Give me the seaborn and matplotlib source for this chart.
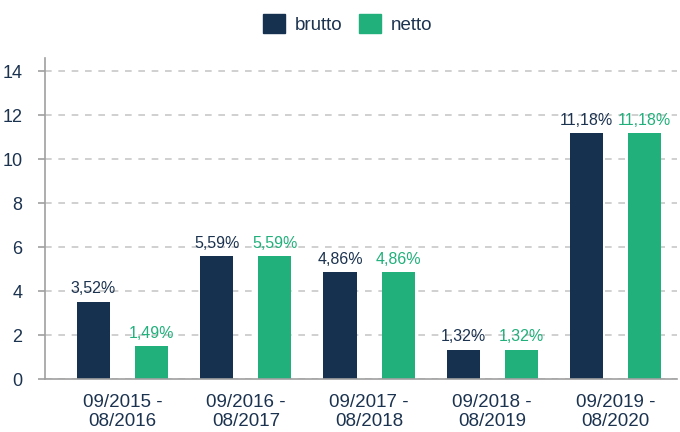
import matplotlib
matplotlib.use("Agg")
import matplotlib.pyplot as plt
import seaborn as sns
import pandas as pd

categories = ["09/2015 -\n08/2016", "09/2016 -\n08/2017", "09/2017 -\n08/2018",
              "09/2018 -\n08/2019", "09/2019 -\n08/2020"]
brutto = [3.52, 5.59, 4.86, 1.32, 11.18]
netto = [1.49, 5.59, 4.86, 1.32, 11.18]
series = ["brutto", "netto"]
colors = {"brutto": "#15314F", "netto": "#21B07B"}
yticks = [0, 2, 4, 6, 8, 10, 12, 14]

df = pd.DataFrame({
    "period": categories * 2,
    "value": brutto + netto,
    "series": ["brutto"] * len(categories) + ["netto"] * len(categories),
})

sns.set_theme(style="white")
plt.rcParams["font.family"] = ["Liberation Sans", "DejaVu Sans"]
text_color = "#1C3350"

fig = plt.figure(figsize=(6.8, 4.32), dpi=100)
ax = fig.add_axes([44.5 / 680, 53 / 432, 632.5 / 680, 321 / 432])

sns.barplot(data=df, x="period", y="value", hue="series", hue_order=series,
            palette=colors, width=0.944, gap=0.43, saturation=1, ax=ax,
            legend=False, errorbar=None, linewidth=0)

ax.set_ylim(0, 14.6)
ax.set_xlim(-0.5 - 16.5 / 123, 4.5)
ax.set_yticks(yticks)
ax.set_xlabel("")
ax.set_ylabel("")
ax.yaxis.grid(True, linestyle=(0, (4, 4)), color="#C8C8C8", linewidth=1.2)
ax.set_axisbelow(True)
for side in ["top", "right"]:
    ax.spines[side].set_visible(False)
for side in ["left", "bottom"]:
    ax.spines[side].set_color("#A0A0A0")
    ax.spines[side].set_linewidth(1.2)
ax.tick_params(axis="y", left=True, length=5, width=1.2, color="#A0A0A0", labelsize=13,
               labelcolor=text_color, pad=11)
ax.tick_params(axis="x", bottom=False, labelsize=13.5, labelcolor=text_color, pad=5)
for lbl in ax.get_xticklabels():
    lbl.set_linespacing(1.1)

for container, name in zip(ax.containers, series):
    labels = [f"{v:.2f}%".replace(".", ",") for v in container.datavalues]
    ax.bar_label(container, labels=labels, padding=4, fontsize=11.5,
                 color=colors[name] if name == "netto" else text_color)

handles = [plt.Rectangle((0, 0), 1, 1, color=colors[s]) for s in series]
fig.legend(handles, series, loc="center", bbox_to_anchor=(347.5 / 680, 1 - 24 / 432),
           ncol=2, frameon=False, fontsize=13.5, handlelength=1.17, handleheight=1.17,
           handletextpad=0.53, columnspacing=0.9, labelcolor=text_color,
           borderpad=0, borderaxespad=0)

fig.savefig("out.png", dpi=100)
